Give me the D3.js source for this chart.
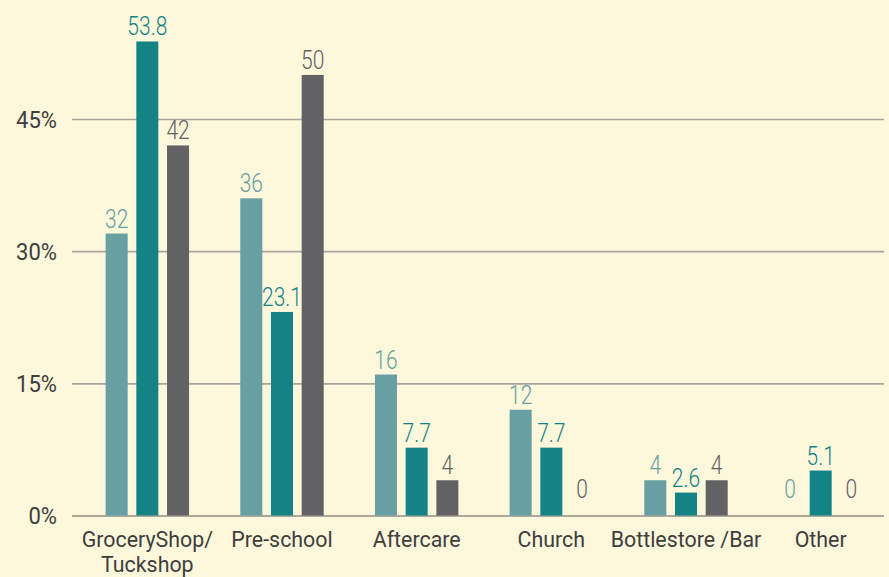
<!DOCTYPE html>
<html>
<head>
<meta charset="utf-8">
<script src="https://cdn.jsdelivr.net/npm/d3@7"></script>
<style>
  html, body { margin: 0; padding: 0; background: #fdf7dc; }
  svg { display: block; font-family: Roboto, "Liberation Sans", sans-serif; }
</style>
</head>
<body>
<div id="chart"></div>
<script>
const categories = [['GroceryShop/', 'Tuckshop'], ['Pre-school'], ['Aftercare'], ['Church'], ['Bottlestore /Bar'], ['Other']];
const seriesA = [32, 36, 16, 12, 4, 0];
const seriesB = [53.8, 23.1, 7.7, 7.7, 2.6, 5.1];
const seriesC = [42, 50, 4, 0, 4, 0];
const yTicks = [0, 15, 30, 45];

const series = [
  { key: 'a', values: seriesA, color: '#689fa2' },
  { key: 'b', values: seriesB, color: '#148385' },
  { key: 'c', values: seriesC, color: '#626164' }
];

const width = 889;
const height = 577;

const svg = d3.select('#chart')
  .append('svg')
  .attr('width', width)
  .attr('height', height);

svg.append('rect')
   .attr('width', width)
   .attr('height', height)
   .attr('fill', '#fdf7dc');

// condensed look: squeeze regular text horizontally
function label(parent, px, py, str, opts) {
  const g = parent.append('g')
    .attr('transform', `translate(${px},${py}) scale(${opts.sx},1)`);
  return g.append('text')
    .attr('text-anchor', opts.anchor || 'middle')
    .attr('font-size', opts.size)
    .attr('font-weight', opts.weight || 400)
    .attr('fill', opts.color)
    .attr('dy', opts.dy || 0)
    .text(str);
}

const names = categories.map(c => c.join(' '));

const x = d3.scaleBand()
  .domain(names)
  .range([80, 888])
  .padding(0);

const xSub = d3.scaleBand()
  .domain(series.map(s => s.key))
  .range([-41.7, 41.7])
  .paddingInner(0.283)
  .paddingOuter(0);

const y = d3.scaleLinear()
  .domain([0, 45])
  .range([515.5, 119]);

// gridlines
const grid = svg.append('g')
  .attr('transform', 'translate(72,0)')
  .call(d3.axisLeft(y).tickValues(yTicks).tickSize(-812).tickFormat(''));
grid.select('.domain').remove();
grid.selectAll('.tick line')
    .attr('stroke', d => d === 0 ? '#8f8d88' : '#a7a49c')
    .attr('stroke-width', 1.6);

// y labels
const yLab = svg.append('g');
yTicks.forEach(t => {
  label(yLab, 57, y(t), t + '%', { sx: 0.9, size: 24.5, color: '#3e3e3e', anchor: 'end', dy: '0.36em' });
});

// bars
const groups = svg.append('g')
  .selectAll('g')
  .data(names)
  .enter()
  .append('g')
  .attr('transform', d => `translate(${x(d) + x.bandwidth() / 2},0)`);

groups.each(function (name, i) {
  const g = d3.select(this);
  series.forEach(s => {
    const v = s.values[i];
    if (v > 0) {
      g.append('rect')
       .attr('x', xSub(s.key))
       .attr('y', y(v))
       .attr('width', xSub.bandwidth())
       .attr('height', y(0) - y(v))
       .attr('fill', s.color);
    }
    label(g, xSub(s.key) + xSub.bandwidth() / 2, Math.min(y(v), y(0) - 12) - 6, v,
      { sx: 0.84, size: 25, color: s.color, weight: 300 });
  });
});

// category labels
const catG = svg.append('g');
categories.forEach((lines, i) => {
  const cx = x(names[i]) + x.bandwidth() / 2;
  lines.forEach((ln, j) => {
    label(catG, cx, 547 + j * 25, ln, { sx: 0.93, size: 23, color: '#3e3e3e' });
  });
});
</script>
</body>
</html>
